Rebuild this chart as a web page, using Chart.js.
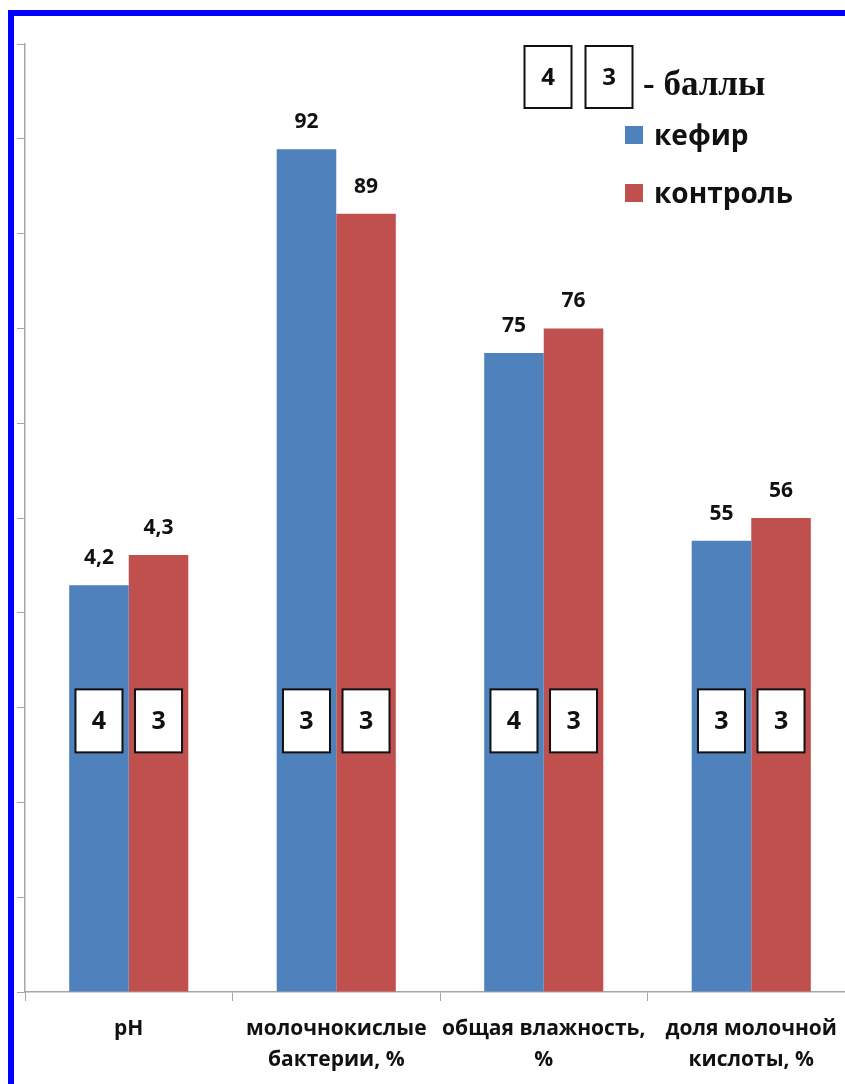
<!DOCTYPE html>
<html lang="ru">
<head>
<meta charset="utf-8">
<title>кефир / контроль</title>
<script src="https://cdn.jsdelivr.net/npm/chart.js@4"></script>
<style>
    html, body { margin: 0; padding: 0; background: #ffffff; overflow: hidden; }
    #wrap { position: relative; width: 855px; height: 1084px; }
</style>
</head>
<body>
<div id="wrap"><canvas id="chart" width="855" height="1084"></canvas></div>
<script>
// категории по оси X (многострочные подписи)
const categories = [
    ["pH"],
    ["молочнокислые", "бактерии, %"],
    ["общая влажность,", "%"],
    ["доля молочной", "кислоты, %"],
];

// высоты столбцов, как они нарисованы на исходной диаграмме (условная шкала 0–100)
const kefirHeights = [42.9, 88.9, 67.4, 47.6];
const controlHeights = [46.1, 82.1, 70.0, 50.0];

// подписи над столбцами
const kefirLabels = ["4,2", "92", "75", "55"];
const controlLabels = ["4,3", "89", "76", "56"];

// баллы в рамках
const kefirScores = ["4", "3", "4", "3"];
const controlScores = ["3", "3", "3", "3"];

const SERIES = [
    { label: "кефир", color: "#4F81BD", values: kefirHeights, labels: kefirLabels, scores: kefirScores },
    { label: "контроль", color: "#C0504D", values: controlHeights, labels: controlLabels, scores: controlScores },
];

const SCORE_LEVEL = 28.6;
const AXIS_COLOR = "#a6a6a6";
const SANS = "'Open Sans', 'Noto Sans', sans-serif";

function drawScoreBox(ctx, cx, cy, w, h, text, fontSize) {
    ctx.save();
    ctx.fillStyle = "#ffffff";
    ctx.fillRect(cx - w / 2, cy - h / 2, w, h);
    ctx.strokeStyle = "#111111";
    ctx.lineWidth = 2;
    ctx.strokeRect(cx - w / 2, cy - h / 2, w, h);
    ctx.fillStyle = "#111111";
    ctx.font = `bold ${fontSize}px ${SANS}`;
    ctx.textAlign = "center";
    ctx.textBaseline = "middle";
    ctx.fillText(text, cx, cy + 1);
    ctx.restore();
}

const annotations = {
    id: "annotations",
    beforeDraw(chart) {
        const ctx = chart.ctx;
        ctx.save();
        ctx.fillStyle = "#ffffff";
        ctx.fillRect(0, 0, chart.width, chart.height);
        ctx.restore();
    },
    afterDatasetsDraw(chart) {
        const ctx = chart.ctx;
        const yScale = chart.scales.y;
        const boxY = yScale.getPixelForValue(SCORE_LEVEL);

        SERIES.forEach((series, di) => {
            const meta = chart.getDatasetMeta(di);
            meta.data.forEach((bar, i) => {
                // значение над столбцом
                ctx.save();
                ctx.fillStyle = "#111111";
                ctx.font = `bold 21px ${SANS}`;
                ctx.textAlign = "center";
                ctx.textBaseline = "middle";
                ctx.fillText(series.labels[i], bar.x, bar.y - 27);
                ctx.restore();

                drawScoreBox(ctx, bar.x, boxY, 47, 63, series.scores[i], 25);
            });
        });
    },
    afterDraw(chart) {
        const ctx = chart.ctx;

        // пояснение к рамкам
        drawScoreBox(ctx, 548, 77, 47, 62, "4", 24);
        drawScoreBox(ctx, 609, 77, 47, 62, "3", 24);
        ctx.save();
        ctx.fillStyle = "#111111";
        ctx.font = "bold 35px 'Liberation Serif', 'DejaVu Serif', serif";
        ctx.textAlign = "left";
        ctx.textBaseline = "alphabetic";
        ctx.fillText("- баллы", 643, 95);

        // легенда
        const rows = [145, 203];
        SERIES.forEach((series, i) => {
            ctx.fillStyle = series.color;
            ctx.fillRect(625, rows[i] - 19, 18, 18);
            ctx.fillStyle = "#111111";
            ctx.font = `bold 28px ${SANS}`;
            ctx.fillText(series.label, 654, rows[i]);
        });

        // синяя рамка
        ctx.fillStyle = "#0000ff";
        ctx.fillRect(8, 10, chart.width, 6);
        ctx.fillRect(8, 10, 6, chart.height);
        ctx.restore();
    },
};

new Chart(document.getElementById("chart").getContext("2d"), {
    type: "bar",
    data: {
        labels: categories,
        datasets: SERIES.map((series) => ({
            label: series.label,
            data: series.values,
            backgroundColor: series.color,
            borderWidth: 0,
            categoryPercentage: 0.574,
            barPercentage: 1,
        })),
    },
    options: {
        responsive: false,
        animation: false,
        layout: { padding: { top: 44, right: 0, bottom: 0, left: 0 } },
        plugins: {
            legend: { display: false },
            tooltip: { enabled: false },
        },
        scales: {
            x: {
                afterFit(scale) {
                    scale.height = 92;
                },
                grid: {
                    offset: true,
                    drawOnChartArea: false,
                    drawTicks: true,
                    tickLength: 9,
                    color: AXIS_COLOR,
                },
                border: { display: true, color: AXIS_COLOR, width: 1.5 },
                ticks: {
                    color: "#111111",
                    font: { family: SANS, size: 21, weight: "bold", lineHeight: 1.5 },
                    padding: 12,
                    maxRotation: 0,
                    autoSkip: false,
                },
            },
            y: {
                min: 0,
                max: 100,
                afterFit(scale) {
                    scale.width = 25;
                },
                grid: {
                    drawOnChartArea: false,
                    drawTicks: true,
                    tickLength: 8,
                    color: AXIS_COLOR,
                },
                border: { display: true, color: AXIS_COLOR, width: 1.5 },
                ticks: {
                    stepSize: 10,
                    callback: () => "",
                },
            },
        },
    },
    plugins: [annotations],
});
</script>
</body>
</html>
